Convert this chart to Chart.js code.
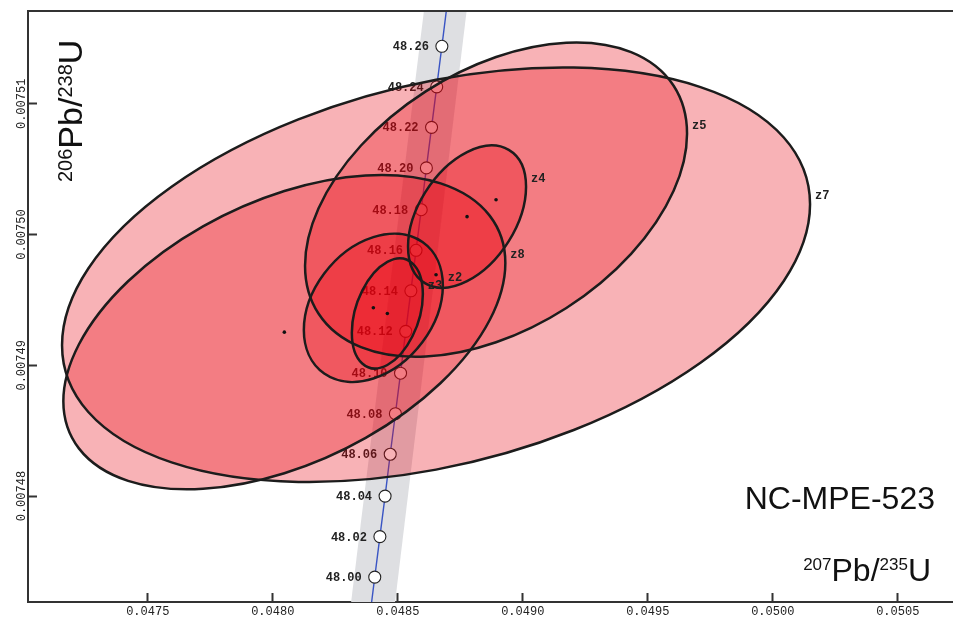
<!DOCTYPE html>
<html>
<head>
<meta charset="utf-8">
<script src="https://cdn.jsdelivr.net/npm/chart.js@4.4.0/dist/chart.umd.min.js"></script>
<style>
  html, body { margin: 0; padding: 0; background: #fff; overflow: hidden; }
  #wrap { width: 953px; height: 621px; }
</style>
</head>
<body>
<div id="wrap"><canvas id="concordia"></canvas></div>
<script>
// concordia age markers (Ma) and their ratios
const ages = [48.00, 48.02, 48.04, 48.06, 48.08, 48.10, 48.12, 48.14, 48.16, 48.18, 48.20, 48.22, 48.24, 48.26];
const conc75 = [0.0484080, 0.0484286, 0.0484493, 0.0484699, 0.0484906, 0.0485112, 0.0485319,
                0.0485525, 0.0485732, 0.0485938, 0.0486145, 0.0486352, 0.0486558, 0.0486765];
const conc68 = [0.0074738, 0.0074769, 0.0074800, 0.0074832, 0.0074863, 0.0074894, 0.0074926,
                0.0074957, 0.0074988, 0.0075019, 0.0075051, 0.0075082, 0.0075113, 0.0075144];
// concordia curve continues past the first/last marker (47.96 and 48.30 Ma)
const concEnds75 = [0.0483667, 0.0487178];
const concEnds68 = [0.0074675, 0.0075207];

// decay constant uncertainty envelope
const bandY = [0.0074675, 0.0075207];
const bandLeft = [0.0482851, 0.0486278];
const bandRight = [0.0484615, 0.0487982];

// zircon analyses: 207Pb/235U, 206Pb/238U, 2 sigma abs, error correlation
const names = ['z7', 'z5', 'z4', 'z8', 'z2', 'z3'];
const r75 = [0.0486532, 0.0488932, 0.0487772, 0.0480464, 0.0484024, 0.0484584];
const r68 = [0.00749693, 0.00750267, 0.00750137, 0.00749254, 0.00749440, 0.00749397];
const err75 = [0.001496, 0.000764, 0.000236, 0.000884, 0.000278, 0.000142];
const err68 = [0.00001585, 0.00001202, 0.00000544, 0.00001202, 0.00000567, 0.00000421];
const rho = [0.34, 0.42, 0.42, 0.44, 0.30, 0.35];

const sampleName = 'NC-MPE-523';

const concPoints = conc75.map((v, i) => ({ x: v, y: conc68[i] }));
const concLine = [{ x: concEnds75[0], y: concEnds68[0] }, ...concPoints, { x: concEnds75[1], y: concEnds68[1] }];
const bandShape = [
  { x: bandLeft[0], y: bandY[0] }, { x: bandLeft[1], y: bandY[1] },
  { x: bandRight[1], y: bandY[1] }, { x: bandRight[0], y: bandY[0] }
];

const MONO = '"Liberation Mono", "DejaVu Sans Mono", monospace';
const SANS = '"Liberation Sans", Arial, sans-serif';

// draws text pieces like ['206', true], ['Pb/', false] with superscripts
function supText(ctx, parts, big, small) {
  let xx = 0;
  const lift = big * 0.729 - small * 0.716;
  parts.forEach(([t, sup]) => {
    ctx.font = (sup ? small : big) + 'px ' + SANS;
    ctx.fillText(t, xx, sup ? -lift : 0);
    xx += ctx.measureText(t).width;
  });
  return xx;
}
function supWidth(ctx, parts, big, small) {
  let w = 0;
  parts.forEach(([t, sup]) => {
    ctx.font = (sup ? small : big) + 'px ' + SANS;
    w += ctx.measureText(t).width;
  });
  return w;
}

const overlay = {
  id: 'overlay',
  afterDatasetsDraw(chart) {
    const { ctx, chartArea: area, scales: { x, y } } = chart;
    ctx.save();
    ctx.beginPath();
    ctx.rect(area.left, area.top, area.right - area.left, area.bottom - area.top);
    ctx.clip();

    // age labels on the concordia
    ctx.font = 'bold 12px ' + MONO;
    ctx.fillStyle = '#222';
    ctx.textAlign = 'right';
    ctx.textBaseline = 'middle';
    ages.forEach((a, i) => {
      ctx.fillText(a.toFixed(2), x.getPixelForValue(conc75[i]) - 13, y.getPixelForValue(conc68[i]) + 1);
    });

    // error ellipses
    const shapes = names.map((n, i) => {
      const cx = x.getPixelForValue(r75[i]);
      const cy = y.getPixelForValue(r68[i]);
      const sx = x.getPixelForValue(r75[i] + err75[i]) - cx;
      const sy = cy - y.getPixelForValue(r68[i] + err68[i]);
      return { n, cx, cy, sx, sy, r: rho[i] };
    });
    const trace = s => {
      ctx.save();
      ctx.translate(s.cx, s.cy);
      ctx.transform(s.sx, -s.r * s.sy, 0, -Math.sqrt(1 - s.r * s.r) * s.sy, 0, 0);
      ctx.beginPath();
      ctx.arc(0, 0, 1, 0, Math.PI * 2);
      ctx.restore();
    };
    ctx.fillStyle = 'rgba(232, 0, 12, 0.3)';
    shapes.forEach(s => { trace(s); ctx.fill(); });
    ctx.strokeStyle = '#1c1c1c';
    ctx.lineWidth = 2.5;
    shapes.forEach(s => { trace(s); ctx.stroke(); });

    ctx.fillStyle = '#111';
    shapes.forEach(s => {
      ctx.beginPath();
      ctx.arc(s.cx, s.cy, 1.8, 0, Math.PI * 2);
      ctx.fill();
    });
    ctx.font = 'bold 12px ' + MONO;
    ctx.fillStyle = '#222';
    ctx.textAlign = 'left';
    ctx.textBaseline = 'middle';
    shapes.forEach(s => {
      ctx.fillText(s.n, s.cx + s.sx + 5, s.cy - s.r * s.sy - 8);
    });
    ctx.restore();

    // frame top line
    ctx.save();
    ctx.strokeStyle = '#333';
    ctx.lineWidth = 2;
    ctx.beginPath();
    ctx.moveTo(area.left, area.top);
    ctx.lineTo(chart.width, area.top);
    ctx.stroke();

    // y tick labels, rotated
    ctx.font = '12px ' + MONO;
    ctx.fillStyle = '#222';
    ctx.textAlign = 'center';
    ctx.textBaseline = 'alphabetic';
    y.ticks.forEach(t => {
      ctx.save();
      ctx.translate(25, y.getPixelForValue(t.value));
      ctx.rotate(-Math.PI / 2);
      ctx.fillText(t.value.toFixed(5), 0, 0);
      ctx.restore();
    });

    // axis titles and sample name
    ctx.fillStyle = '#111';
    ctx.textAlign = 'left';
    ctx.save();
    ctx.translate(82, 182);
    ctx.rotate(-Math.PI / 2);
    supText(ctx, [['206', true], ['Pb/', false], ['238', true], ['U', false]], 34, 20);
    ctx.restore();

    const xt = [['207', true], ['Pb/', false], ['235', true], ['U', false]];
    const w = supWidth(ctx, xt, 32, 17);
    ctx.save();
    ctx.translate(931 - w, 581);
    supText(ctx, xt, 32, 17);
    ctx.restore();

    ctx.font = '32px ' + SANS;
    ctx.textAlign = 'right';
    ctx.fillText(sampleName, 935, 509);
    ctx.restore();
  }
};

new Chart(document.getElementById('concordia'), {
  type: 'scatter',
  data: {
    datasets: [
      {
        data: bandShape, showLine: true, fill: 'shape', borderWidth: 0,
        backgroundColor: '#dedfe2', pointRadius: 0, order: 3
      },
      {
        data: concLine, showLine: true, fill: false, borderColor: '#3a55c4',
        borderWidth: 1.4, pointRadius: 0, order: 2
      },
      {
        data: concPoints, showLine: false, pointRadius: 6, pointBorderWidth: 1.1,
        pointBorderColor: '#222', pointBackgroundColor: '#fff', order: 1
      }
    ]
  },
  options: {
    responsive: true,
    maintainAspectRatio: false,
    animation: false,
    layout: { autoPadding: false, padding: { top: 11, right: 0, bottom: 0, left: 0 } },
    plugins: { legend: { display: false }, tooltip: { enabled: false } },
    scales: {
      x: {
        type: 'linear', position: 'bottom',
        min: 0.047021, max: 0.050721,
        ticks: {
          stepSize: 0.0005, includeBounds: false, autoSkip: false, maxRotation: 0,
          padding: 12, color: '#222', font: { family: MONO, size: 12 },
          callback: v => v.toFixed(4)
        },
        grid: { drawOnChartArea: false, drawTicks: true, tickLength: -9, tickWidth: 2, tickColor: '#333' },
        border: { color: '#333', width: 2 },
        afterFit: s => { s.height = 19; s.paddingLeft = 0; s.paddingRight = 0; }
      },
      y: {
        type: 'linear', position: 'left',
        min: 0.0074719, max: 0.0075171,
        ticks: { stepSize: 0.00001, includeBounds: false, display: false },
        grid: { drawOnChartArea: false, drawTicks: true, tickLength: -9, tickWidth: 2, tickColor: '#333' },
        border: { color: '#333', width: 2 },
        afterFit: s => { s.width = 28; s.paddingTop = 0; s.paddingBottom = 0; }
      }
    }
  },
  plugins: [overlay]
});
</script>
</body>
</html>
